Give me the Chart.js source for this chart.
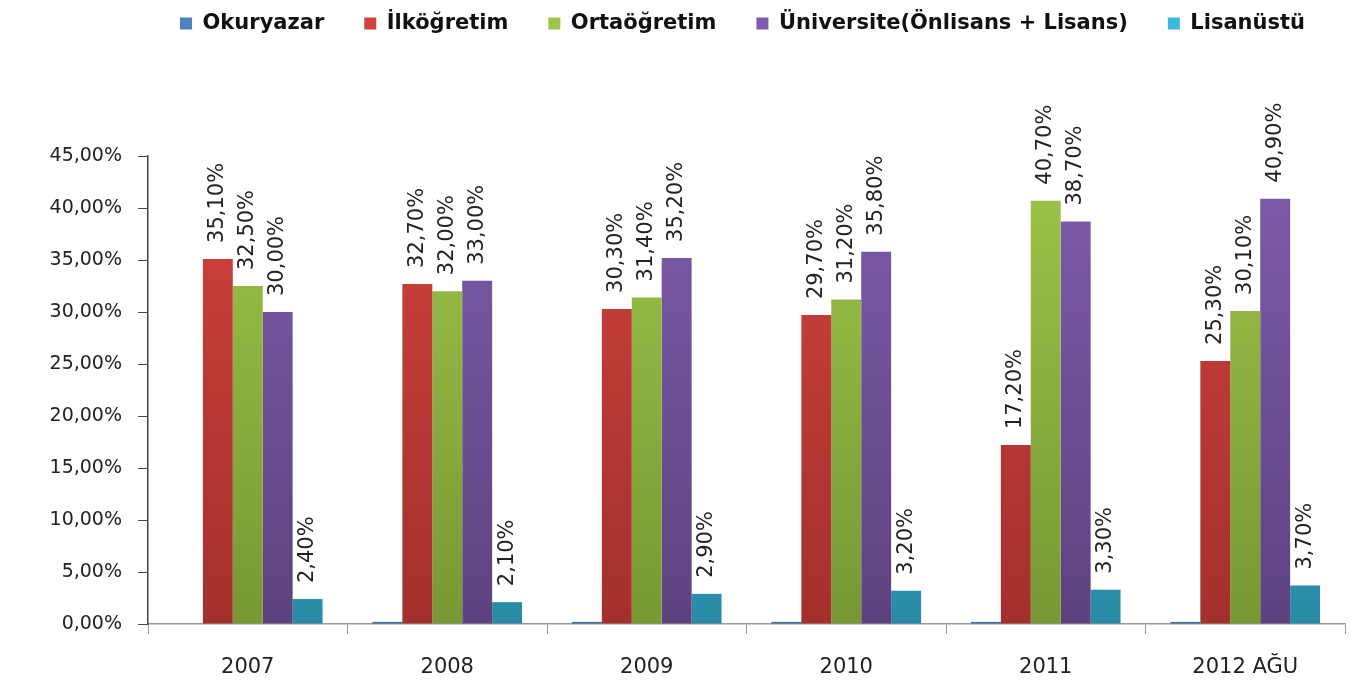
<!DOCTYPE html>
<html>
<head>
<meta charset="utf-8">
<script src="https://cdn.jsdelivr.net/npm/chart.js@4"></script>
<style>
  body { margin: 0; background: #fff; }
  #wrap { width: 1365px; height: 687px; }
</style>
</head>
<body>
<div id="wrap"><canvas id="chart" width="1365" height="687"></canvas></div>
<script>
const years = ['2007', '2008', '2009', '2010', '2011', '2012 AĞU'];
const okuryazar = [0, 0.2, 0.2, 0.2, 0.2, 0.2];
const ilkogretim = [35.1, 32.7, 30.3, 29.7, 17.2, 25.3];
const ortaogretim = [32.5, 32.0, 31.4, 31.2, 40.7, 30.1];
const universite = [30.0, 33.0, 35.2, 35.8, 38.7, 40.9];
const lisansustu = [2.4, 2.1, 2.9, 3.2, 3.3, 3.7];
const yTicks = [0, 5, 10, 15, 20, 25, 30, 35, 40, 45];

const FONT = '"DejaVu Sans", sans-serif';

// top and bottom colours of each series, the legend uses the flat one
function grad(top, bottom, legend) {
  return function (c) {
    const area = c.chart.chartArea;
    if (!area || c.type !== 'data') return legend;
    const g = c.chart.ctx.createLinearGradient(0, area.top, 0, area.bottom);
    g.addColorStop(0, top);
    g.addColorStop(1, bottom);
    return g;
  };
}

function pct(v) {
  return v.toFixed(2).replace('.', ',') + '%';
}

// rotated value labels above bars
const barLabels = {
  id: 'barLabels',
  afterDatasetsDraw(chart) {
    const ctx = chart.ctx;
    ctx.save();
    ctx.font = '21px ' + FONT;
    ctx.fillStyle = '#222';
    ctx.textAlign = 'left';
    ctx.textBaseline = 'middle';
    chart.data.datasets.forEach((ds, i) => {
      if (ds.noLabels) return;
      chart.getDatasetMeta(i).data.forEach((bar, j) => {
        ctx.save();
        ctx.translate(bar.x, bar.y - 16);
        ctx.rotate(-Math.PI / 2);
        ctx.fillText(pct(ds.data[j]), 0, 0);
        ctx.restore();
      });
    });
    ctx.restore();
  }
};

// legend keeps the space above the plot, but is drawn near the top and a bit to the right
const legendPlace = {
  id: 'legendPlace',
  beforeInit(chart) {
    const fit = chart.legend.fit;
    chart.legend.fit = function () {
      fit.bind(chart.legend)();
      this.height = 152;
    };
  },
  afterLayout(chart) {
    const lg = chart.legend;
    lg.top = -27;
    lg.bottom = lg.top + 152;
    lg.left += 66;
    lg.right += 66;
  }
};

new Chart(document.getElementById('chart'), {
  type: 'bar',
  data: {
    labels: years,
    datasets: [
      { label: 'Okuryazar', data: okuryazar, noLabels: true,
        backgroundColor: grad('#4f81bd', '#3a6aa4', '#4a7ebb') },
      { label: 'İlköğretim', data: ilkogretim,
        backgroundColor: grad('#d2423d', '#a2302c', '#c83a35') },
      { label: 'Ortaöğretim', data: ortaogretim,
        backgroundColor: grad('#9dc54a', '#779834', '#93bd44') },
      { label: 'Üniversite(Önlisans + Lisans)', data: universite,
        backgroundColor: grad('#7f5cab', '#5d427f', '#7652a2') },
      { label: 'Lisanüstü', data: lisansustu,
        backgroundColor: grad('#3bbada', '#2a8aa5', '#35b2d3') }
    ]
  },
  options: {
    responsive: false,
    animation: false,
    categoryPercentage: 0.75,
    barPercentage: 1.0,
    layout: { padding: { left: 8, right: 20, top: 4, bottom: 0 } },
    plugins: {
      legend: {
        position: 'top',
        labels: {
          boxWidth: 12,
          boxHeight: 12,
          padding: 40,
          color: '#111',
          font: { family: FONT, size: 21, weight: 'bold' }
        }
      },
      tooltip: { enabled: false }
    },
    scales: {
      x: {
        grid: { offset: true, drawOnChartArea: false, tickLength: 10, color: '#999' },
        border: { color: '#999', width: 1.5 },
        ticks: { color: '#222', padding: 21, font: { family: FONT, size: 21 } },
        afterFit(s) { s.height = 63; }
      },
      y: {
        min: 0,
        max: 45,
        afterBuildTicks(s) { s.ticks = yTicks.map(v => ({ value: v })); },
        grid: { drawOnChartArea: false, tickLength: 10, color: '#444' },
        border: { color: '#444', width: 1.5 },
        ticks: {
          color: '#222',
          padding: 16,
          font: { family: FONT, size: 19 },
          callback: v => pct(v)
        },
        afterFit(s) { s.width = 140; }
      }
    }
  },
  plugins: [barLabels, legendPlace]
});
</script>
</body>
</html>
